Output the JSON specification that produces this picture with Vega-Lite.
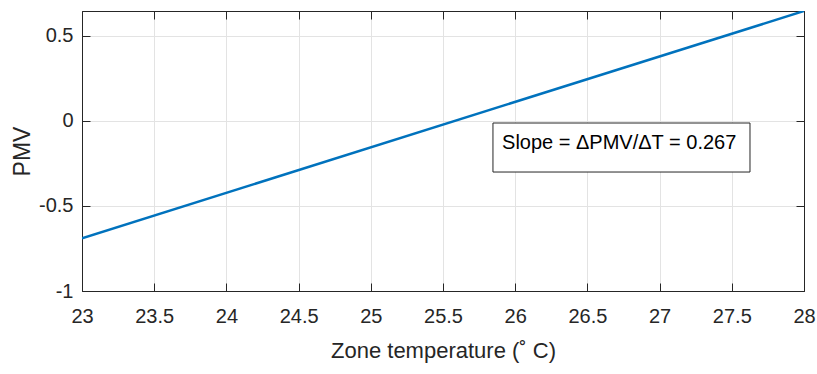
{
  "$schema": "https://vega.github.io/schema/vega-lite/v6.json",
  "width": 722,
  "height": 280,
  "autosize": {"type": "none"},
  "padding": {"left": 82, "top": 11, "right": 13, "bottom": 83},
  "background": "white",
  "config": {
    "view": {"stroke": "#262626", "strokeWidth": 1},
    "font": "Liberation Sans",
    "axis": {
      "labelFont": "Liberation Sans",
      "titleFont": "Liberation Sans",
      "labelColor": "#262626",
      "titleColor": "#262626",
      "domainColor": "#262626",
      "tickColor": "#262626",
      "gridColor": "#e3e3e3",
      "gridWidth": 1,
      "labelFontSize": 20,
      "titleFontSize": 22,
      "titleFontWeight": "normal",
      "tickSize": -8,
      "tickWidth": 1,
      "labelFlush": false,
      "labelOverlap": false,
      "labelExpr": "'' + datum.value"
    }
  },
  "datasets": {
    "curve": [
      {"temp": 23, "pmv": -0.69},
      {"temp": 28, "pmv": 0.645}
    ],
    "box": [
      {"x1": 25.846, "x2": 27.626, "y1": -0.301, "y2": -0.013}
    ],
    "note": [
      {"tx": 26.72, "ty": -0.132, "label": "Slope = ΔPMV/ΔT = 0.267"}
    ]
  },
  "resolve": {"axis": {"x": "independent", "y": "independent"}},
  "layer": [
    {
      "data": {"name": "curve"},
      "mark": {"type": "line", "color": "#0072BD", "strokeWidth": 2.5, "clip": true},
      "encoding": {
        "x": {
          "field": "temp", "type": "quantitative",
          "scale": {"domain": [23, 28], "nice": false, "zero": false},
          "axis": {"values": [23, 23.5, 24, 24.5, 25, 25.5, 26, 26.5, 27, 27.5, 28], "title": "Zone temperature (˚ C)", "titlePadding": 14, "labelPadding": 23, "orient": "bottom", "grid": true}
        },
        "y": {
          "field": "pmv", "type": "quantitative",
          "scale": {"domain": [-1, 0.645], "nice": false, "zero": false},
          "axis": {"values": [-1, -0.5, 0, 0.5], "title": "PMV", "titleFontSize": 23, "titlePadding": 4, "labelPadding": 17, "orient": "left", "grid": true}
        }
      }
    },
    {
      "data": {"name": "box"},
      "mark": {"type": "rect", "fill": "white", "stroke": "#262626", "strokeWidth": 1},
      "encoding": {
        "x": {"field": "x1", "type": "quantitative", "axis": {"orient": "top", "values": [23, 23.5, 24, 24.5, 25, 25.5, 26, 26.5, 27, 27.5, 28], "labels": false, "title": null, "grid": false}},
        "x2": {"field": "x2"},
        "y": {"field": "y1", "type": "quantitative", "axis": {"orient": "right", "values": [-1, -0.5, 0, 0.5], "labels": false, "title": null, "grid": false}},
        "y2": {"field": "y2"}
      }
    },
    {
      "data": {"name": "note"},
      "mark": {"type": "text", "font": "Liberation Sans", "fontSize": 20, "color": "#000000", "align": "center", "baseline": "middle"},
      "encoding": {
        "x": {"field": "tx", "type": "quantitative", "axis": null},
        "y": {"field": "ty", "type": "quantitative", "axis": null},
        "text": {"field": "label"}
      }
    }
  ]
}
